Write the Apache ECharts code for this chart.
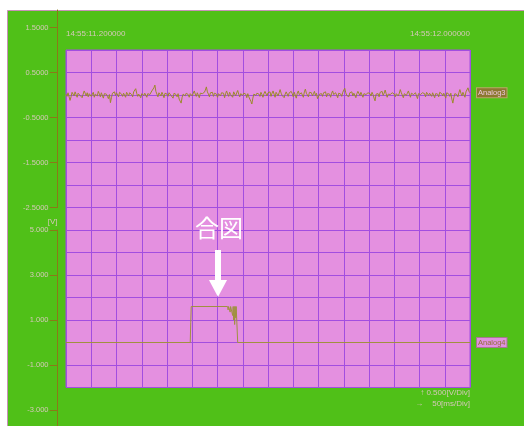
<!DOCTYPE html>
<html>
<head>
<meta charset="utf-8">
<script src="https://cdn.jsdelivr.net/npm/echarts@6/dist/echarts.min.js"></script>
<style>
html,body{margin:0;padding:0;background:#fff;}
#c{width:524px;height:426px;}
</style>
</head>
<body>
<div id="c"></div>
<script>
// ---- data ----
const timeLabels = ['14:55:11.200000', '14:55:12.000000'];
const timeRangeMs = [0, 800];
const timeDivMs = 50;
const sampleMs = 2;
const analog3Ticks = [1.5, 0.5, -0.5, -1.5, -2.5];
const analog4Ticks = [5, 3, 1, -1, -3];
const analog3Values = [
  0.02,-0.03,0.05,0.01,-0.12,-0.04,0.06,0.03,-0.02,0.07,0.01,-0.05,0.04,0.08,-0.01,0.03,-0.06,0.02,0.09,0.04,
  -0.02,0.05,-0.04,0.03,0.07,-0.03,0.01,0.06,-0.05,0.02,0.04,-0.02,0.08,0.03,-0.04,0.05,0.01,-0.07,0.03,0.06,
  0.02,-0.03,-0.08,0.01,-0.17,-0.06,0.04,0.02,0.07,-0.01,0.05,0.03,-0.04,0.06,0.10,0.02,-0.03,0.04,0.01,-0.05,
  0.06,0.03,-0.02,0.05,0.08,0.01,-0.04,0.07,0.09,0.14,0.04,-0.03,0.02,0.06,-0.06,0.03,0.05,-0.01,0.04,0.02,
  -0.05,0.03,0.07,0.01,0.05,0.09,0.12,0.16,0.22,0.08,0.02,-0.04,0.05,0.03,-0.02,0.06,0.01,-0.06,0.04,0.07,
  0.02,-0.03,0.05,0.08,-0.01,0.03,-0.07,0.04,0.06,0.01,-0.04,0.03,-0.09,-0.12,-0.18,-0.05,0.02,0.05,-0.02,0.04,
  0.07,0.01,-0.05,0.03,0.06,-0.02,0.04,0.09,0.02,-0.03,0.05,0.01,-0.06,0.04,0.08,0.03,-0.01,0.06,0.11,0.18,
  0.07,0.02,-0.04,0.05,0.01,0.06,-0.03,0.04,0.08,0.02,-0.05,0.03,0.07,-0.02,0.05,0.01,0.04,-0.06,0.03,0.09,
  0.02,-0.03,0.06,0.01,0.04,-0.05,0.07,0.03,-0.02,0.05,0.10,0.02,-0.04,0.03,0.06,-0.01,0.04,0.08,0.02,-0.06,
  0.03,-0.04,-0.09,-0.14,-0.20,-0.07,0.02,0.05,-0.01,0.04,0.07,0.02,-0.03,0.06,0.01,-0.05,0.03,0.08,0.04,-0.02,
  0.05,0.01,0.07,-0.03,0.04,0.09,0.02,-0.05,0.06,0.03,-0.02,0.05,0.12,0.04,-0.01,0.03,-0.06,0.02,0.07,0.04,
  -0.03,0.05,0.01,0.08,0.03,-0.04,0.06,0.02,-0.07,0.04,0.09,0.01,-0.02,0.05,0.03,-0.05,0.07,0.13,0.04,0.01,
  -0.04,0.06,0.02,0.05,-0.02,0.03,0.08,-0.01,0.04,-0.08,-0.11,0.02,0.06,0.03,-0.03,0.05,0.01,0.07,-0.04,0.03,
  0.06,0.02,-0.05,0.04,0.09,0.01,-0.02,0.05,0.03,-0.06,0.04,0.08,0.02,-0.03,0.06,0.10,0.15,0.05,-0.01,0.03,
  -0.04,0.05,0.02,0.07,-0.02,0.04,0.01,-0.06,0.03,0.08,0.04,-0.01,0.06,0.02,-0.05,0.03,0.07,0.01,-0.03,0.05,
  0.09,0.03,-0.02,0.06,0.01,-0.07,-0.13,0.02,0.05,0.03,-0.04,0.06,0.02,0.08,-0.01,0.04,0.11,0.03,-0.05,0.02,
  0.06,0.01,-0.03,0.05,0.08,0.02,-0.04,0.03,0.07,-0.02,0.04,0.12,0.05,0.01,-0.06,0.03,0.06,-0.01,0.04,0.09,
  0.02,-0.05,0.04,0.07,0.01,-0.03,0.05,0.02,-0.08,0.03,0.06,0.01,-0.02,0.05,0.09,0.03,-0.04,0.06,0.02,-0.01,
  0.04,0.08,-0.03,0.05,0.01,-0.06,0.03,0.07,0.02,-0.04,0.06,0.10,0.03,-0.02,0.04,0.01,-0.07,0.05,0.08,0.02,
  -0.03,0.04,-0.09,-0.18,-0.06,0.03,0.06,0.01,-0.04,0.05,0.12,0.04,-0.02,0.06,0.02,-0.05,0.07,0.03,0.16,0.08,
  0.05
];
const analog4Times = [0, 246, 247, 248, 320, 321, 322, 324, 325, 326, 329, 330, 331, 332, 333, 334, 335, 336, 337, 339, 340, 800];
const analog4Values = [0, 0, 0.9, 1.6, 1.6, 1.45, 1.6, 1.6, 1.35, 1.6, 1.6, 1.2, 1.6, 1.0, 1.6, 0.8, 1.6, 1.1, 1.6, 1.6, 0, 0];

// ---- styles ----
const GREEN = '#50c018';
const PINK = '#e490e0';
const GRIDLINE = '#a24ee0';
const AXIS = '#8a7a18';
const LABEL = '#d4c8b8';
const FONT = "'Liberation Sans', Arial, sans-serif";

const plotLeft = 66, plotWidth = 404, plotTop = 50, rowH = 22.5, rows = 15;
const a3Top = 10, a3Bottom = 207.5;
const a3Min = -2.5, a3PxPerV = 45;
const a3Max = a3Min + (a3Bottom - a3Top) / a3PxPerV;
const a4Top = 230, a4Bottom = 426, a4Max = 5, a4PxPerV = 22.5;
const a4Min = a4Max - (a4Bottom - a4Top) / a4PxPerV;

const a3Data = analog3Values.map((v, i) => [i * sampleMs, v]);
const a4Data = analog4Times.map((t, i) => [t, analog4Values[i]]);

const chart = echarts.init(document.getElementById('c'), null, {renderer: 'canvas'});

function valueAxisBase(gridIndex, min, max, ticks, decimals, name) {
  return {
    type: 'value', gridIndex, min, max, position: 'left', offset: 8.5,
    name: name || '', nameLocation: 'end', nameGap: 4,
    nameTextStyle: {color: LABEL, fontFamily: FONT, fontSize: 8, align: 'right', padding: [0, 0, 0, 0]},
    axisLine: {show: true, onZero: false, lineStyle: {color: AXIS, width: 1}},
    axisTick: {show: true, length: 8, customValues: ticks, lineStyle: {color: AXIS}},
    axisLabel: {show: true, margin: 9, customValues: ticks, color: LABEL, fontFamily: FONT, fontSize: 7.5,
      formatter: v => v.toFixed(decimals)},
    splitLine: {show: false}
  };
}

const option = {
  animation: false,
  backgroundColor: '#ffffff',
  graphic: [
    {type: 'rect', z: -100, shape: {x: 7.5, y: 10.5, width: 520, height: 420},
      style: {fill: GREEN, stroke: '#c890b8', lineWidth: 1}},
    {type: 'text', z: 100, style: {x: 219, y: 228, text: '合図', fill: '#ffffff',
      font: "24px 'Noto Sans CJK JP'", align: 'center', verticalAlign: 'middle'}},
    {type: 'rect', z: 100, shape: {x: 215, y: 250, width: 6, height: 31}, style: {fill: '#ffffff'}},
    {type: 'polygon', z: 100, shape: {points: [[209, 280], [227, 280], [218, 297]]}, style: {fill: '#ffffff'}},
    {type: 'text', z: 100, style: {x: 470, y: 393, text: '↑ 0.500[V/Div]', fill: LABEL,
      font: "8px " + FONT, align: 'right', verticalAlign: 'middle'}},
    {type: 'text', z: 100, style: {x: 470, y: 404, text: '→    50[ms/Div]', fill: LABEL,
      font: "8px " + FONT, align: 'right', verticalAlign: 'middle'}}
  ],
  grid: [
    {left: plotLeft, top: plotTop, width: plotWidth, height: rowH * rows, show: true,
      backgroundColor: PINK, borderColor: GRIDLINE, borderWidth: 1, containLabel: false},
    {left: plotLeft, top: a3Top, width: plotWidth, height: a3Bottom - a3Top},
    {left: plotLeft, top: a4Top, width: plotWidth, height: a4Bottom - a4Top}
  ],
  xAxis: [
    {type: 'value', gridIndex: 0, min: timeRangeMs[0], max: timeRangeMs[1], interval: timeDivMs, position: 'top',
      axisLine: {show: false}, axisTick: {show: false},
      axisLabel: {show: true, customValues: timeRangeMs, margin: 12, color: LABEL, fontFamily: FONT, fontSize: 8,
        alignMinLabel: 'left', alignMaxLabel: 'right',
        formatter: v => (v === timeRangeMs[0] ? timeLabels[0] : timeLabels[1])},
      splitLine: {show: true, lineStyle: {color: GRIDLINE, width: 1}}},
    {type: 'value', gridIndex: 1, min: timeRangeMs[0], max: timeRangeMs[1], show: false},
    {type: 'value', gridIndex: 2, min: timeRangeMs[0], max: timeRangeMs[1], show: false}
  ],
  yAxis: [
    {type: 'value', gridIndex: 0, min: 0, max: rows, interval: 1,
      axisLine: {show: false}, axisTick: {show: false}, axisLabel: {show: false},
      splitLine: {show: true, lineStyle: {color: GRIDLINE, width: 1}}},
    valueAxisBase(1, a3Min, a3Max, analog3Ticks, 4),
    valueAxisBase(2, a4Min, a4Max, analog4Ticks, 3, '[V]')
  ],
  series: [
    {type: 'line', name: 'Analog3', xAxisIndex: 1, yAxisIndex: 1, data: a3Data,
      showSymbol: false, symbol: 'none', clip: false,
      lineStyle: {color: '#9c8a2a', width: 1},
      endLabel: {show: true, formatter: 'Analog3', distance: 7, color: '#ecc8dc',
        backgroundColor: '#8c7830', borderColor: '#b8a868', borderWidth: 1,
        padding: [1, 1, 0, 1], fontFamily: FONT, fontSize: 7.5}},
    {type: 'line', name: 'Analog4', xAxisIndex: 2, yAxisIndex: 2, data: a4Data,
      showSymbol: false, symbol: 'none', clip: false,
      lineStyle: {width: 1, color: new echarts.graphic.LinearGradient(0, 0, 0, 1, [
        {offset: 0, color: '#a09040'}, {offset: 0.96, color: '#a09040'},
        {offset: 0.985, color: '#857060'}, {offset: 1, color: '#857060'}])},
      endLabel: {show: true, formatter: 'Analog4', distance: 7, color: '#94703a',
        backgroundColor: '#e090e0', borderColor: '#a87890', borderWidth: 1,
        padding: [1, 1, 0, 1], fontFamily: FONT, fontSize: 7.5}}
  ]
};
chart.setOption(option);
</script>
</body>
</html>
